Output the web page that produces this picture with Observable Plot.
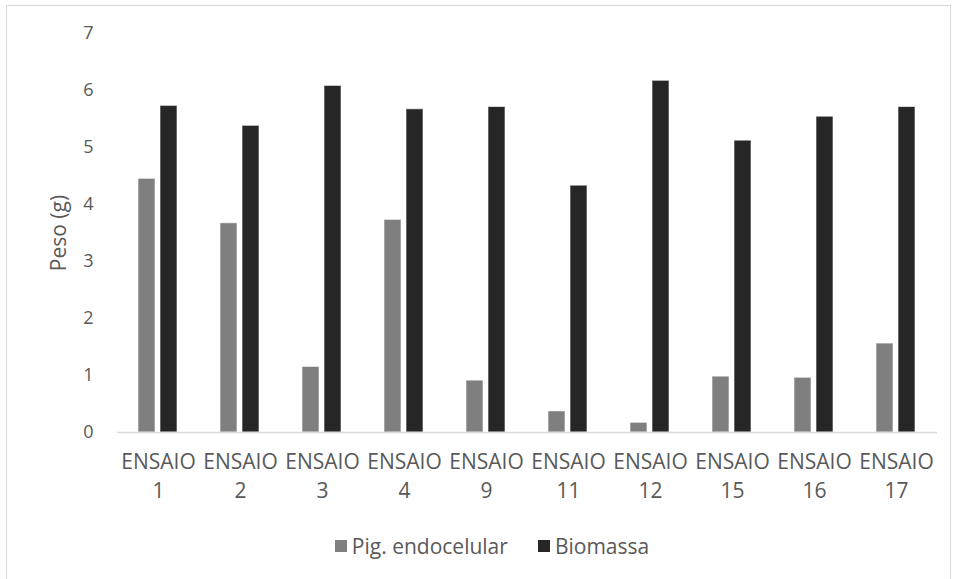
<!DOCTYPE html>
<html>
<head>
<meta charset="utf-8">
<script src="https://cdn.jsdelivr.net/npm/d3@7"></script>
<script src="https://cdn.jsdelivr.net/npm/@observablehq/plot@0.6"></script>
<style>
  html, body { margin: 0; padding: 0; background: #fff; }
  body { width: 958px; height: 579px; position: relative; overflow: hidden; font-family: "Open Sans", sans-serif; }
  #frame { position: absolute; left: 6px; top: 5px; width: 945px; height: 600px; border: 1.5px solid #d9d9d9; box-sizing: border-box; }
  #chart { position: absolute; left: 0; top: 0; }
  #chart g[aria-label="y-axis tick label"] { font-size: 18px; }
  #legend { position: absolute; left: 13px; width: 958px; top: 532px; display: flex; justify-content: center; gap: 30px; font-size: 21px; color: #595959; }
  #legend .item { display: flex; align-items: center; gap: 5px; }
  #legend .sw { width: 12px; height: 12px; display: inline-block; }
</style>
</head>
<body>
<div id="frame"></div>
<div id="chart"></div>
<div id="legend"></div>
<script>
const categories = ["1", "2", "3", "4", "9", "11", "12", "15", "16", "17"];
const series = ["Pig. endocelular", "Biomassa"];
const colors = ["#7f7f7f", "#262626"];
const pigValues = [4.45, 3.67, 1.15, 3.73, 0.91, 0.37, 0.17, 0.98, 0.96, 1.56];
const bioValues = [5.73, 5.38, 6.08, 5.67, 5.71, 4.33, 6.17, 5.12, 5.54, 5.71];
const yTicks = [0, 1, 2, 3, 4, 5, 6, 7];
const yLabel = "Peso (g)";

const data = [];
categories.forEach((c, i) => {
  data.push({cat: c, series: series[0], value: pigValues[i]});
  data.push({cat: c, series: series[1], value: bioValues[i]});
});

const chart = Plot.plot({
  width: 958,
  height: 520,
  marginTop: 33,
  marginBottom: 88,
  marginLeft: 116,
  marginRight: 20,
  style: {fontFamily: "Open Sans, sans-serif", color: "#595959", background: "transparent", fontSize: "20px"},
  fx: {domain: categories, padding: 0, label: null},
  x: {domain: series, paddingInner: 0.217, paddingOuter: 0.895, axis: null},
  y: {domain: [0, 7], label: null},
  color: {domain: series, range: colors},
  marks: [
    Plot.axisFx({anchor: "bottom", tickSize: 0, tickPadding: 16, lineHeight: 1.37, label: null, tickFormat: d => "ENSAIO\n" + d}),
    Plot.axisY(yTicks, {tickSize: 0, tickPadding: 24, label: null, tickFormat: d3.format("d")}),
    Plot.axisY({ticks: [], label: yLabel, labelAnchor: "center", labelArrow: "none", labelOffset: 66}),
    Plot.barY(data, {fx: "cat", x: "series", y: "value", fill: "series", stroke: "#ffffff", strokeOpacity: 0.6, strokeWidth: 1}),
    Plot.ruleY([0], {stroke: "#d9d9d9", strokeWidth: 1.5})
  ]
});
d3.select(chart).selectAll("text")
  .filter(function() { return this.textContent.startsWith("ENSAIO"); })
  .style("font-size", "21px");
d3.select(chart).selectAll("text")
  .filter(function() { return this.textContent === yLabel; })
  .style("font-size", "21px");
document.getElementById("chart").appendChild(chart);

const legend = document.getElementById("legend");
series.forEach((s, i) => {
  const item = document.createElement("span");
  item.className = "item";
  const sw = document.createElement("span");
  sw.className = "sw";
  sw.style.background = colors[i];
  item.appendChild(sw);
  item.appendChild(document.createTextNode(s));
  legend.appendChild(item);
});
</script>
</body>
</html>
